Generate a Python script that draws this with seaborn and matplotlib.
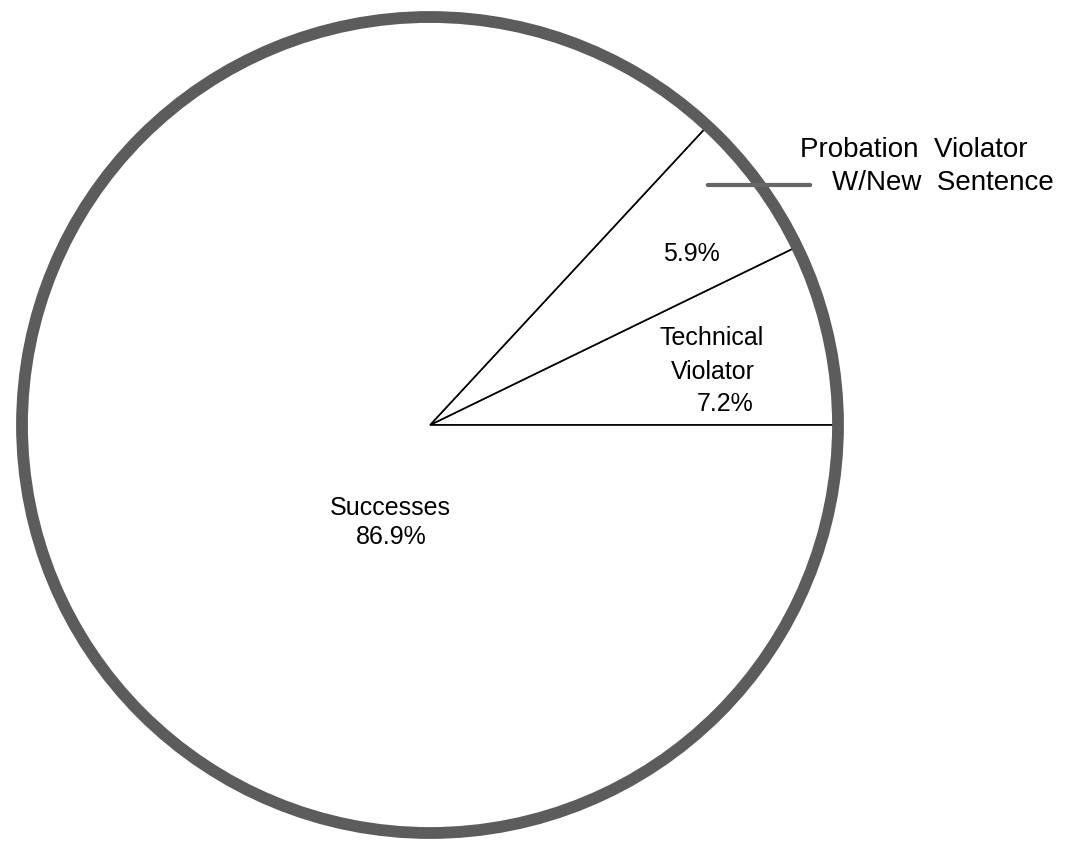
import matplotlib
matplotlib.use('Agg')
import matplotlib.pyplot as plt
from matplotlib.patches import Ellipse
import seaborn as sns

# slices, counterclockwise from 3 o'clock
categories = ['Technical Violator', 'Probation Violator W/New Sentence', 'Successes']
shares = [7.2, 5.9, 86.9]

sns.set_theme(style='white')
plt.rcParams['font.family'] = ['Liberation Sans', 'DejaVu Sans']
plt.rcParams['text.color'] = 'black'

fig = plt.figure(figsize=(10.73, 8.43), dpi=100)
ax = fig.add_axes([0, 0, 1, 1])

# pixel -> data helpers (pie centre ~ (430, 425), radius ~408 px)
cx, cy, rx, ry = 430, 425, 408, 408
def px(x):
    return (x - cx) / rx
def py(y):
    return (cy - y) / ry

wedges, _ = ax.pie(shares, startangle=0, counterclock=True,
                   colors=['white'] * len(shares),
                   wedgeprops=dict(edgecolor='black', linewidth=1.2))
ax.set_aspect('auto')
ax.set_xlim(px(0), px(1073))
ax.set_ylim(py(843), py(0))
ax.axis('off')

# thick mottled rim of the printed chart
ax.add_patch(Ellipse((0, 0), 2, 2, fill=False, edgecolor='#5c5c5c', linewidth=8.5, zorder=3))

fs = 18
ax.text(px(691), py(254), '5.9%', ha='center', va='center', fontsize=fs)
ax.text(px(712), py(338), 'Technical', ha='center', va='center', fontsize=fs)
ax.text(px(713), py(372), 'Violator', ha='center', va='center', fontsize=fs)
ax.text(px(725), py(404), '7.2%', ha='center', va='center', fontsize=fs)
ax.text(px(390), py(508), 'Successes', ha='center', va='center', fontsize=fs)
ax.text(px(391), py(537), '86.9%', ha='center', va='center', fontsize=fs)

ax.text(px(1028), py(150), 'Probation  Violator', ha='right', va='center', fontsize=20)
ax.text(px(1054), py(183), 'W/New  Sentence', ha='right', va='center', fontsize=20)
ax.annotate('', xy=(px(813), py(185)), xytext=(px(705), py(185)),
            arrowprops=dict(arrowstyle='-', color='#666666', linewidth=3))

fig.savefig('out.png', dpi=100, facecolor='white')
